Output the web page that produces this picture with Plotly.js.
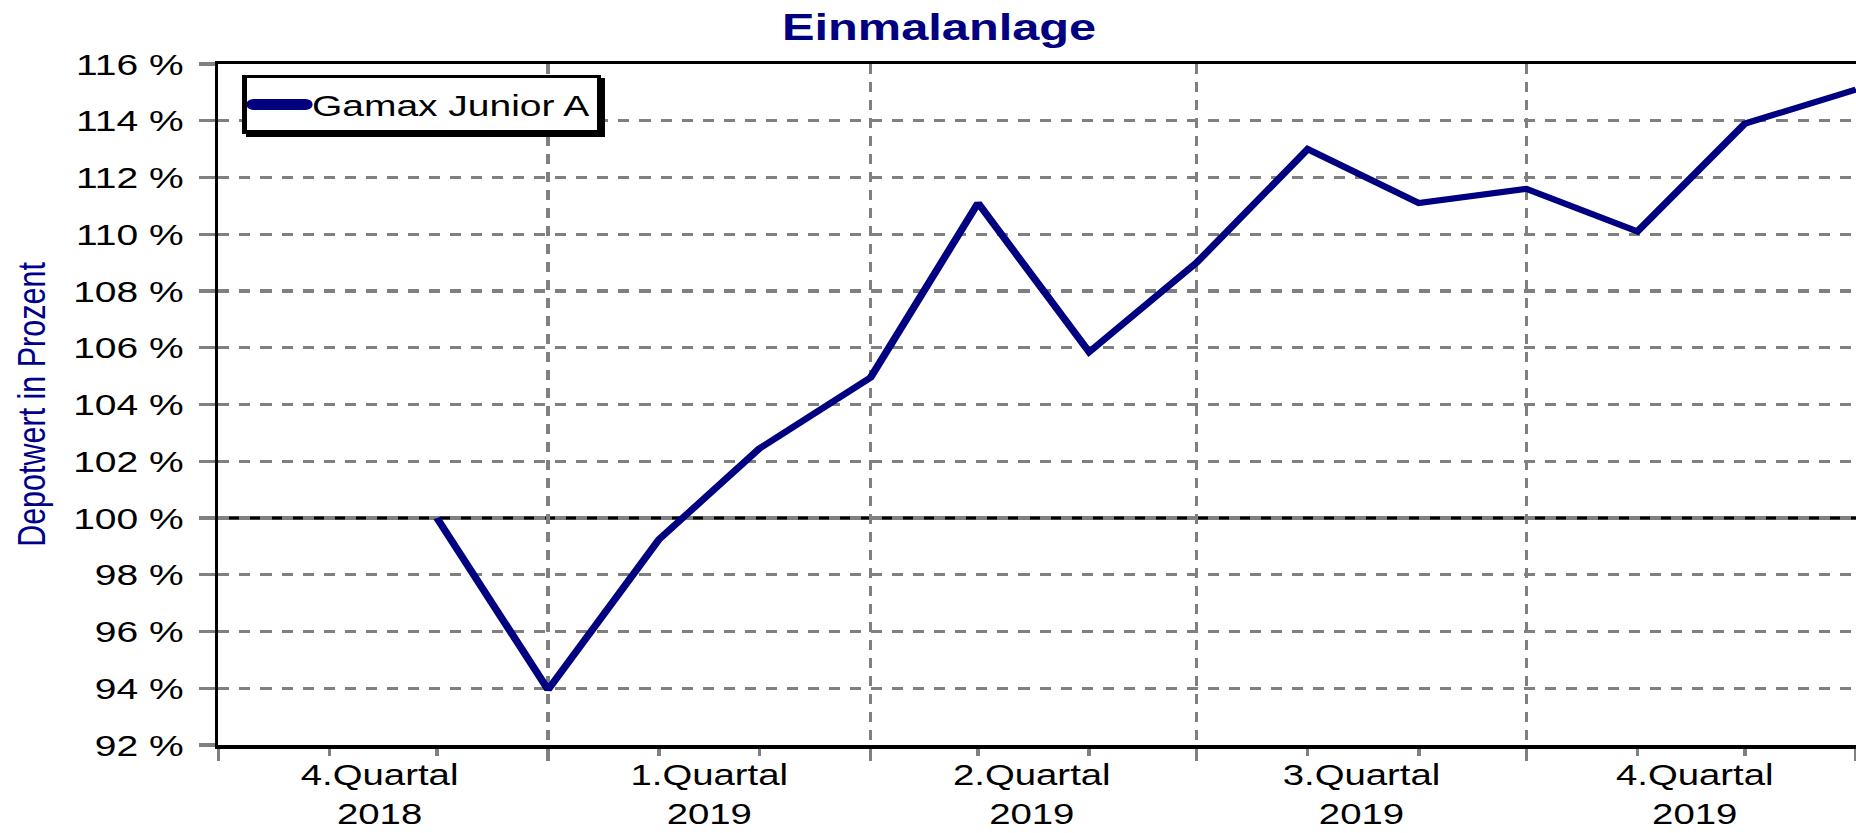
<!DOCTYPE html>
<html>
<head>
<meta charset="utf-8">
<script src="https://cdn.plot.ly/plotly-3.0.1.min.js"></script>
<style>
  html, body { margin: 0; padding: 0; background: #fff; overflow: hidden; }
  #wrap { width: 1428px; height: 833px; transform: scaleX(1.29972); transform-origin: 0 0; }
  #chart { width: 1428px; height: 833px; }
</style>
</head>
<body>
<div id="wrap"><div id="chart"></div></div>
<script>
// ---- data ----
const seriesName = 'Gamax Junior A';
const dates = ['2018-12-01','2019-01-01','2019-02-01','2019-03-01','2019-04-01','2019-05-01','2019-06-01',
               '2019-07-01','2019-08-01','2019-09-01','2019-10-01','2019-11-01','2019-12-01','2020-01-01'];
const values = [100, 93.95, 99.25, 102.45, 104.95, 111.1, 105.85, 109.0, 113.0, 111.1, 111.6, 110.1, 113.9, 115.1];
const baseline = 100;
const xRange = ['2018-10-01', '2020-01-01'];
const quarterStarts = ['2018-10-01','2019-01-01','2019-04-01','2019-07-01','2019-10-01','2020-01-01'];
const quarterMids = ['2018-11-15','2019-02-15','2019-05-16','2019-08-16','2019-11-17'];
const quarterLabels = ['4.Quartal<br>2018','1.Quartal<br>2019','2.Quartal<br>2019','3.Quartal<br>2019','4.Quartal<br>2019'];
const yRange = [92, 116];

const FONT = 'Liberation Sans, Arial, Helvetica, sans-serif';
const GRID = '#808080';

const trace = {
  x: dates, y: values, type: 'scatter', mode: 'lines', name: seriesName,
  line: { color: '#000080', width: 6 }, xaxis: 'x', yaxis: 'y', hoverinfo: 'skip'
};
// carrier so the quarter-label axis (x2) is laid out; fully transparent
const labelCarrier = {
  x: dates, y: values, type: 'scatter', mode: 'lines', showlegend: false, hoverinfo: 'skip',
  line: { color: 'rgba(0,0,0,0)', width: 0 }, opacity: 0, xaxis: 'x2', yaxis: 'y'
};

const layout = {
  width: 1428, height: 833,
  margin: { l: 168, r: 0, t: 64, b: 88 },
  paper_bgcolor: '#fff', plot_bgcolor: '#fff',
  font: { family: FONT, size: 30, color: '#000' },
  showlegend: true,
  title: {
    text: '<b>Einmalanlage</b>', font: { family: FONT, size: 37.5, color: '#000080' },
    xref: 'container', x: 0.506, xanchor: 'center', yref: 'container', y: 0.9676, yanchor: 'middle'
  },
  xaxis: {
    type: 'date', range: xRange, tickmode: 'array', tickvals: quarterStarts, showticklabels: false,
    ticks: 'outside', ticklen: 12, tickwidth: 2.6, tickcolor: GRID,
    showgrid: true, gridcolor: GRID, gridwidth: 2.7, griddash: '10px,8px',
    showline: true, linecolor: '#000', linewidth: 3.5, mirror: true, zeroline: false,
    minor: { dtick: 'M1', tick0: '2018-10-01', ticks: 'outside', ticklen: 7, tickwidth: 2.6, tickcolor: GRID, showgrid: false }
  },
  xaxis2: {
    type: 'date', overlaying: 'x', anchor: 'y', side: 'bottom', range: xRange,
    tickmode: 'array', tickvals: quarterMids, ticktext: quarterLabels,
    ticks: '', showgrid: false, showline: false, zeroline: false,
    ticklabelstandoff: 10, tickfont: { family: FONT, size: 29.5, color: '#000' }
  },
  yaxis: {
    range: yRange, tickmode: 'linear', tick0: 92, dtick: 2, ticksuffix: ' %',
    ticks: 'outside', ticklen: 12, tickwidth: 3.2, tickcolor: GRID,
    showgrid: true, gridcolor: GRID, gridwidth: 3.4, griddash: '8.5px,7.7px',
    showline: true, linecolor: '#000', linewidth: 2.7, mirror: true, zeroline: false,
    ticklabelstandoff: 6,
    tickfont: { family: FONT, size: 30, color: '#000' },
    title: { text: 'Depotwert in Prozent', standoff: 12, font: { family: FONT, size: 30.5, color: '#00008B' } }
  },
  shapes: [{
    type: 'line', xref: 'paper', x0: 0, x1: 1, yref: 'y', y0: baseline, y1: baseline,
    line: { color: '#000', width: 3.5 }, layer: 'between'
  }],
  legend: {
    x: 0.0147, y: 0.984, xanchor: 'left', yanchor: 'top',
    bgcolor: '#fff', bordercolor: '#000', borderwidth: 3.5,
    font: { family: FONT, size: 30, color: '#000' }, itemwidth: 40
  }
};

Plotly.newPlot('chart', [trace, labelCarrier], layout, { displayModeBar: false, staticPlot: true }).then(gd => {
  const bg = gd.querySelector('.legend rect.bg');
  if (bg) {
    const sh = bg.cloneNode(false);
    sh.setAttribute('class', 'legend-shadow');
    sh.style.fill = '#000';
    sh.style.stroke = '#000';
    sh.setAttribute('transform', 'translate(3,3)');
    bg.parentNode.insertBefore(sh, bg);
  }
  gd.querySelectorAll('.legend .legendlines path').forEach(p => {
    p.style.strokeWidth = '11px';
    p.style.strokeLinecap = 'round';
  });
});
</script>
</body>
</html>
